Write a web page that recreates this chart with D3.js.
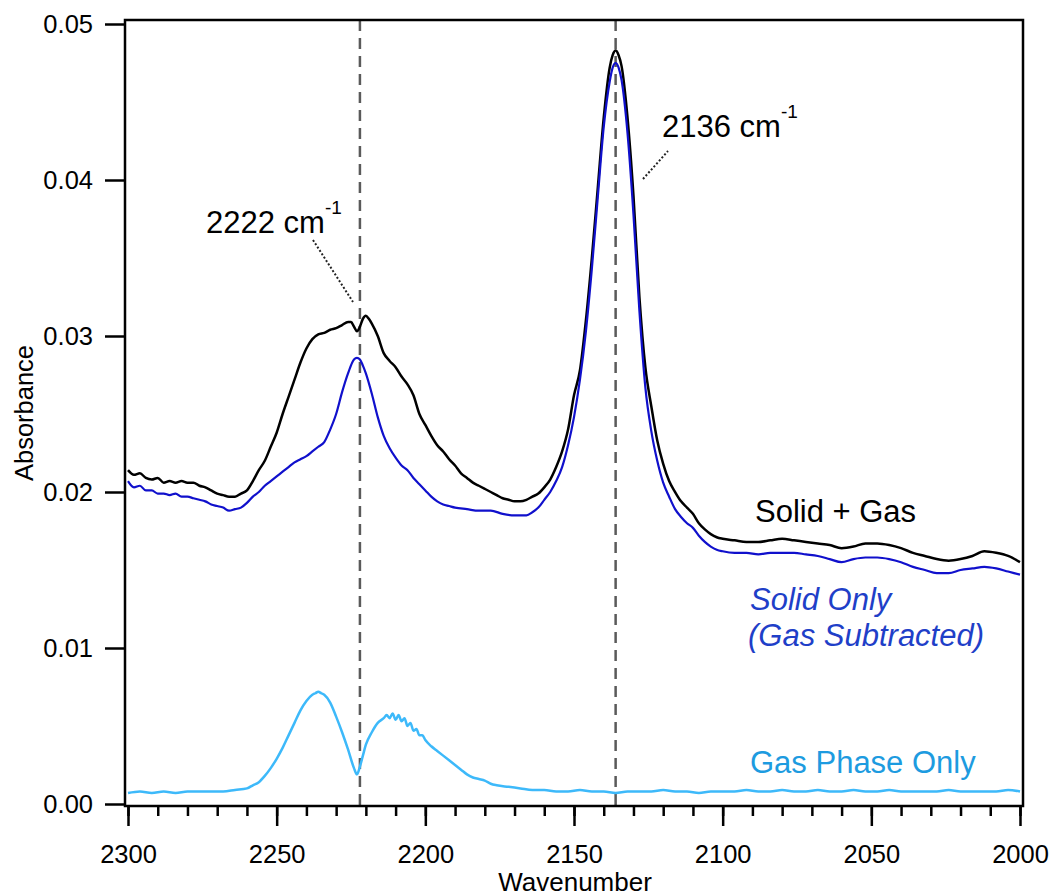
<!DOCTYPE html>
<html>
<head>
<meta charset="utf-8">
<script src="https://cdn.jsdelivr.net/npm/d3@7"></script>
<style>
  html, body { margin: 0; padding: 0; background: #fff; }
  svg { display: block; font-family: "Liberation Sans", Arial, sans-serif; }
</style>
</head>
<body>
<svg id="chart" width="1052" height="896"></svg>
<script>
'use strict';

// Absorbance spectra, [wavenumber (cm-1), absorbance] pairs.
var solidGas = [
  [2300, .0214], [2298, .0211], [2296, .0212], [2294, .0209], [2292, .0208],
  [2290, .0209], [2288, .0206], [2286, .0207], [2284, .0206], [2282, .0207],
  [2280, .0206], [2278, .0206], [2276, .0204], [2274, .0203], [2272, .0201],
  [2270, .0199], [2268, .0198], [2266, .0197], [2264, .0197], [2262, .0199],
  [2260, .0201], [2258, .0207], [2256, .0214], [2254, .0220], [2252, .0229],
  [2250, .0238], [2248, .0250], [2246, .0261], [2244, .0272], [2242, .0283],
  [2240, .0292], [2238, .0298], [2236, .0301], [2234, .0302], [2232, .0304],
  [2230, .0305], [2228, .0307], [2226, .0309], [2225, .0309], [2224, .0306],
  [2223, .0303], [2222, .0306], [2221, .0311], [2220, .0313], [2219, .0311],
  [2218, .0308], [2216, .0300], [2214, .0289], [2212, .0284], [2210, .0280],
  [2208, .0274], [2206, .0269], [2204, .0262], [2202, .0250], [2200, .0243],
  [2198, .0236], [2196, .0230], [2194, .0226], [2192, .0221], [2190, .0217],
  [2188, .0212], [2186, .0209], [2184, .0206], [2182, .0204], [2180, .0202],
  [2178, .0200], [2176, .0198], [2174, .0196], [2172, .0195], [2170, .0194],
  [2168, .0194], [2166, .0195], [2164, .0197], [2162, .0199], [2160, .0203],
  [2158, .0208], [2156, .0216], [2154, .0226], [2152, .0240], [2150, .0262],
  [2148, .0278], [2146, .0310], [2144, .0350], [2142, .0395], [2140, .0440],
  [2138, .0472], [2137, .0480], [2136, .0483], [2135, .0480], [2134, .0473],
  [2132, .0440], [2130, .0390],
  [2128, .0325], [2126, .0280], [2124, .0255], [2122, .0233], [2120, .0218],
  [2118, .0207], [2116, .0200], [2114, .0194], [2112, .0190], [2110, .0186],
  [2108, .0180], [2106, .0176], [2104, .0173], [2102, .0171], [2100, .0170],
  [2096, .0169], [2092, .0168], [2088, .0168], [2084, .0169], [2080, .0170],
  [2076, .0169], [2072, .0168], [2068, .0167], [2064, .0166], [2060, .0164],
  [2056, .0165], [2052, .0167], [2048, .0167], [2044, .0166], [2040, .0164],
  [2036, .0161], [2032, .0159], [2028, .0157], [2024, .0156], [2020, .0157],
  [2016, .0159], [2012, .0162], [2008, .0161], [2004, .0159], [2000, .0155]
];

var solidOnly = [
  [2300, .0207], [2298, .0203], [2296, .0204], [2294, .0201], [2292, .0201],
  [2290, .0199], [2288, .0199], [2286, .0198], [2284, .0199], [2282, .0197],
  [2280, .0197], [2278, .0196], [2276, .0195], [2274, .0194], [2272, .0192],
  [2270, .0191], [2268, .0190], [2266, .0188], [2264, .0189], [2262, .0190],
  [2260, .0193], [2258, .0197], [2256, .0200], [2254, .0204], [2252, .0207],
  [2250, .0210], [2248, .0213], [2246, .0216], [2244, .0219], [2242, .0221],
  [2240, .0223], [2238, .0226], [2236, .0229], [2234, .0232], [2232, .0240],
  [2230, .0250], [2228, .0264], [2226, .0276], [2224, .0285], [2223, .0286],
  [2222, .0285], [2221, .0281], [2220, .0276], [2218, .0263], [2216, .0248],
  [2214, .0236], [2212, .0228], [2210, .0222], [2208, .0217], [2206, .0214],
  [2204, .0209], [2202, .0205], [2200, .0201], [2198, .0197], [2196, .0194],
  [2194, .0192], [2192, .0191], [2190, .0190], [2186, .0189], [2182, .0188],
  [2178, .0188], [2174, .0186], [2170, .0185], [2166, .0185], [2164, .0187],
  [2162, .0190], [2160, .0195], [2158, .0200], [2156, .0207], [2154, .0216],
  [2152, .0230], [2150, .0248], [2148, .0272], [2146, .0303], [2144, .0343],
  [2142, .0389], [2140, .0434], [2138, .0463], [2137, .0472], [2136, .0475],
  [2135, .0472], [2134, .0464],
  [2132, .0430], [2130, .0378], [2128, .0316], [2126, .0267], [2124, .0239],
  [2122, .0220], [2120, .0206], [2118, .0197], [2116, .0189], [2114, .0184],
  [2112, .0180], [2110, .0177], [2108, .0172], [2106, .0168], [2104, .0165],
  [2102, .0163], [2100, .0162], [2096, .0161], [2092, .0161], [2088, .0160],
  [2084, .0161], [2080, .0161], [2076, .0161], [2072, .0160], [2068, .0159],
  [2064, .0157], [2060, .0155], [2056, .0157], [2052, .0158], [2048, .0158],
  [2044, .0157], [2040, .0155], [2036, .0152], [2032, .0150], [2028, .0148],
  [2024, .0148], [2020, .0150], [2016, .0151], [2012, .0152], [2008, .0151],
  [2004, .0149], [2000, .0147]
];

var gasOnly = [
  [2300, .0007], [2296, .0008], [2292, .0007], [2288, .0008], [2284, .0007],
  [2280, .0008], [2276, .0008], [2272, .0008], [2268, .0008], [2264, .0009],
  [2260, .0010], [2258, .0012], [2256, .0014], [2254, .0018], [2252, .0023],
  [2250, .0029], [2248, .0036], [2246, .0044], [2244, .0052], [2242, .0060],
  [2240, .0066], [2238, .0070], [2237, .0071], [2236, .0072], [2235, .0071],
  [2234, .0070], [2232, .0065], [2230, .0056], [2228, .0046], [2226, .0035],
  [2224, .0023], [2223, .0019], [2222, .0024], [2221, .0031], [2220, .0038],
  [2218, .0046], [2216, .0052], [2214, .0055], [2213, .0057], [2212, .0055],
  [2211, .0058], [2210, .0054], [2209, .0057], [2208, .0053], [2207, .0055],
  [2206, .0050], [2205, .0052], [2204, .0047], [2203, .0048], [2202, .0044],
  [2201, .0044], [2200, .0041], [2198, .0037], [2196, .0034], [2194, .0031],
  [2192, .0028], [2190, .0025], [2188, .0022], [2186, .0019], [2184, .0017],
  [2182, .0016], [2180, .0015], [2178, .0013], [2176, .0012], [2172, .0011],
  [2168, .0010], [2164, .0009], [2160, .0009], [2156, .0008], [2152, .0008],
  [2148, .0009], [2144, .0008], [2140, .0008], [2136, .0007], [2132, .0008],
  [2128, .0008], [2124, .0008], [2120, .0009], [2116, .0008], [2112, .0008],
  [2108, .0007], [2104, .0008], [2100, .0008], [2096, .0008], [2092, .0009],
  [2088, .0008], [2084, .0008], [2080, .0009], [2076, .0008], [2072, .0008],
  [2068, .0009], [2064, .0008], [2060, .0008], [2056, .0009], [2052, .0008],
  [2048, .0008], [2044, .0009], [2040, .0008], [2036, .0008], [2032, .0008],
  [2028, .0008], [2024, .0009], [2020, .0008], [2016, .0008], [2012, .0008],
  [2008, .0008], [2004, .0009], [2000, .0008]
];

var yTicks = [0, 0.01, 0.02, 0.03, 0.04, 0.05];
var xMajorTicks = [2300, 2250, 2200, 2150, 2100, 2050, 2000];
var peakLines = [2222, 2136];

var svg = d3.select('#chart');

var x = d3.scaleLinear().domain([2300, 2000]).range([128, 1020]);
var y = d3.scaleLinear().domain([0, 0.05]).range([804, 24]);

var frame = { left: 125, top: 20, right: 1023, bottom: 806 };

var line = d3.line()
  .curve(d3.curveMonotoneX)
  .x(function(d) { return x(d[0]); })
  .y(function(d) { return y(d[1]); });

// dashed markers at the two band positions
svg.selectAll('line.peak')
  .data(peakLines)
  .enter().append('line')
  .attr('class', 'peak')
  .attr('x1', function(d) { return x(d); })
  .attr('x2', function(d) { return x(d); })
  .attr('y1', frame.top)
  .attr('y2', frame.bottom)
  .attr('stroke', '#5a5a5a')
  .attr('stroke-width', 2.5)
  .attr('stroke-dasharray', '11,7');

// spectra
svg.append('path').datum(gasOnly)
  .attr('d', line).attr('fill', 'none')
  .attr('stroke', '#3db9fa').attr('stroke-width', 2.5);
svg.append('path').datum(solidGas)
  .attr('d', line).attr('fill', 'none')
  .attr('stroke', '#000').attr('stroke-width', 2.5);
svg.append('path').datum(solidOnly)
  .attr('d', line).attr('fill', 'none')
  .attr('stroke', '#1010cc').attr('stroke-width', 2.2);

// frame
svg.append('rect')
  .attr('x', frame.left).attr('y', frame.top)
  .attr('width', frame.right - frame.left)
  .attr('height', frame.bottom - frame.top)
  .attr('fill', 'none').attr('stroke', '#000').attr('stroke-width', 2.5);

// y axis
var yAxis = svg.append('g')
  .attr('transform', 'translate(' + frame.left + ',0)')
  .call(d3.axisLeft(y).tickValues(yTicks).tickFormat(d3.format('.2f'))
    .tickSize(20).tickPadding(12));

// x axis, minor ticks first then labelled majors
var xMinor = svg.append('g')
  .attr('transform', 'translate(0,' + frame.bottom + ')')
  .call(d3.axisBottom(x).tickValues(d3.range(2300, 1999, -10))
    .tickSize(10).tickFormat(''));
var xAxis = svg.append('g')
  .attr('transform', 'translate(0,' + frame.bottom + ')')
  .call(d3.axisBottom(x).tickValues(xMajorTicks).tickFormat(d3.format('d'))
    .tickSize(20).tickPadding(19));

[yAxis, xMinor, xAxis].forEach(function(g) {
  g.select('.domain').remove();
  g.selectAll('.tick line').attr('stroke', '#000').attr('stroke-width', 2.5);
  g.selectAll('.tick text')
    .attr('fill', '#000')
    .style('font-family', '"Liberation Sans", Arial, sans-serif')
    .style('font-size', '25.5px');
});

// axis titles
svg.append('text')
  .attr('transform', 'translate(33,413) rotate(-90)')
  .attr('text-anchor', 'middle')
  .style('font-size', '25.5px')
  .text('Absorbance');
svg.append('text')
  .attr('x', 575).attr('y', 891)
  .attr('text-anchor', 'middle')
  .style('font-size', '26px')
  .text('Wavenumber');

/**
 * Band label with a cm-1 superscript and a dotted leader.
 */
function bandLabel(value, tx, ty, leader) {
  var t = svg.append('text')
    .attr('x', tx).attr('y', ty)
    .style('font-size', '31px');
  t.append('tspan').text(value + ' cm');
  t.append('tspan').attr('dy', -19).style('font-size', '19px').text('-1');
  svg.append('line')
    .attr('x1', leader[0]).attr('y1', leader[1])
    .attr('x2', leader[2]).attr('y2', leader[3])
    .attr('stroke', '#222').attr('stroke-width', 2)
    .attr('stroke-dasharray', '2,2');
}
bandLabel(peakLines[0], 206, 233, [313, 240, 353, 302]);
bandLabel(peakLines[1], 662, 137, [643, 179, 668, 151]);

// series labels
svg.append('text')
  .attr('x', 755).attr('y', 522)
  .style('font-size', '31px').attr('fill', '#000')
  .text('Solid + Gas');
var solidLabel = svg.append('text')
  .style('font-size', '31px').style('font-style', 'italic')
  .attr('fill', '#1f3fc8');
solidLabel.append('tspan').attr('x', 750).attr('y', 610).text('Solid Only');
solidLabel.append('tspan').attr('x', 748).attr('y', 646).text('(Gas Subtracted)');
svg.append('text')
  .attr('x', 750).attr('y', 773)
  .style('font-size', '31px').attr('fill', '#1d9be0')
  .text('Gas Phase Only');
</script>
</body>
</html>
